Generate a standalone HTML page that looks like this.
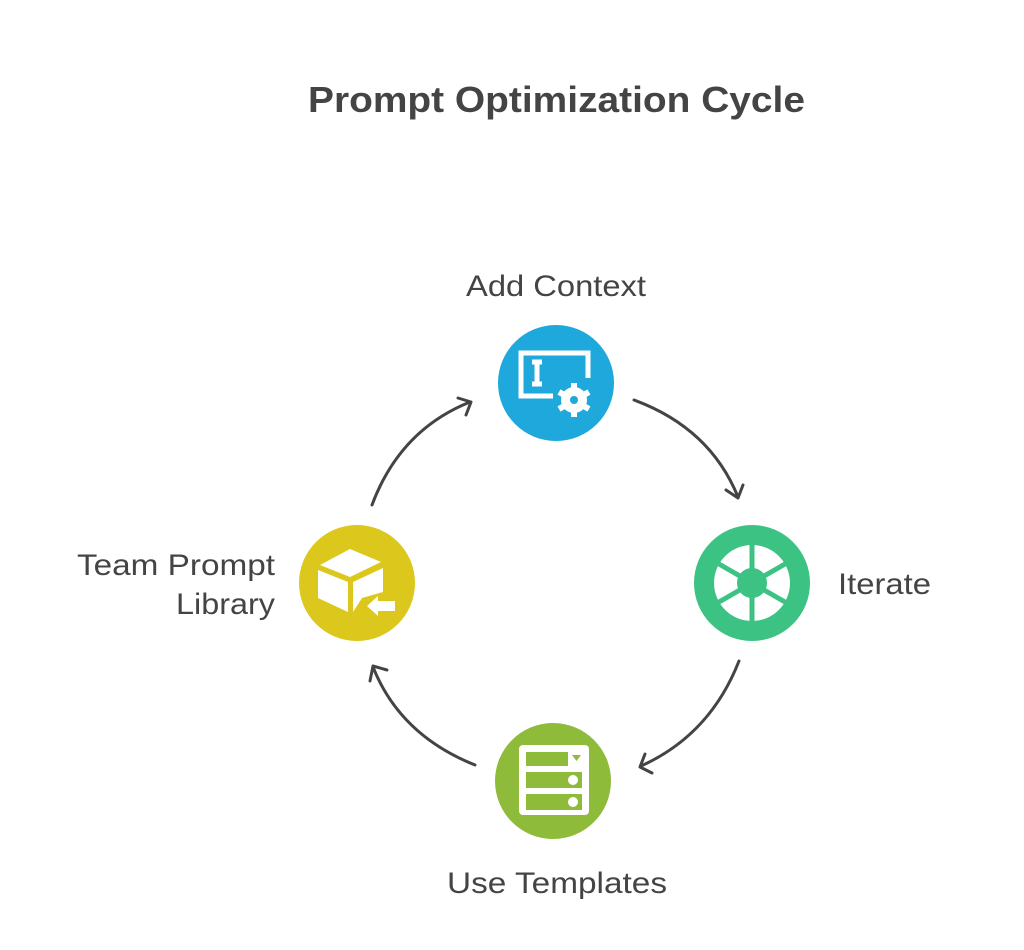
<!DOCTYPE html>
<html><head><style>
body{margin:0;background:#fff;}
svg{display:block}
text{font-family:"Liberation Sans",sans-serif;fill:#444}
</style></head><body>
<svg width="1024" height="950" viewBox="0 0 1024 950">
<text x="308" y="112" font-size="36" font-weight="bold" textLength="497" lengthAdjust="spacingAndGlyphs">Prompt Optimization Cycle</text>
<g fill="none" stroke="#444" stroke-width="3" stroke-linecap="round" stroke-linejoin="round">
<path d="M372 505 Q400 430 470 402"/><path d="M458 398 L471 402 L466 415"/>
<path d="M634 400 Q710 428 738 497"/><path d="M726 490 L738 498 L743 485"/>
<path d="M739 661 Q710 735 641 766"/><path d="M652 773 L640 767 L645 754"/>
<path d="M475 765 Q400 735 373 667"/><path d="M370 681 L373 666 L387 670"/>
</g>
<circle cx="556" cy="383" r="58" fill="#1ea8dc"/>
<circle cx="752" cy="583" r="58" fill="#3cc383"/>
<circle cx="553" cy="781" r="58" fill="#8fbb3a"/>
<circle cx="357" cy="583" r="58" fill="#dcc81c"/>
<g fill="none" stroke="#fff" stroke-width="5">
<path d="M553 396 L521 396 L521 353 L588 353 L588 378"/>
<path d="M532 362 h10 M537 362 v22 M532 384 h10"/>
</g>
<g fill="#fff"><circle cx="574" cy="400" r="13"/></g>
<g stroke="#fff" stroke-width="6"><path d="M574 383 v34 M559 392 l30 17 M559 409 l30 -17"/></g>
<circle cx="574" cy="400" r="4" fill="#1ea8dc"/>
<circle cx="752" cy="583" r="38" fill="#fff"/>
<circle cx="752" cy="583" r="15" fill="#3cc383"/>
<g stroke="#3cc383" stroke-width="5"><path d="M752 545 v76 M719 564 l66 38 M719 602 l66 -38"/></g>
<rect x="519" y="745" width="70" height="70" rx="4" fill="#fff"/>
<g fill="#8fbb3a"><rect x="526" y="752" width="42" height="14"/><rect x="526" y="772" width="56" height="16"/><rect x="526" y="794" width="56" height="16"/></g>
<path d="M572 755 h9 l-4.5 6z" fill="#8fbb3a"/>
<circle cx="573" cy="780" r="5" fill="#fff"/><circle cx="573" cy="802" r="5" fill="#fff"/>
<g fill="#fff"><path d="M320 565 L350 549 L381 562 L350 577z"/><path d="M318 570 L348 582 L348 612 L318 598z"/><path d="M353 582 L383 568 L383 592 L362 598 L353 612z"/>
<path d="M367 606 L378 596 L378 601 L395 601 L395 611 L378 611 L378 616z"/></g>
<text x="466" y="296" font-size="30" textLength="180" lengthAdjust="spacingAndGlyphs">Add Context</text>
<text x="838" y="594" font-size="30" textLength="93" lengthAdjust="spacingAndGlyphs">Iterate</text>
<text x="447" y="893" font-size="30" textLength="220" lengthAdjust="spacingAndGlyphs">Use Templates</text>
<text x="77" y="575" font-size="30" textLength="198" lengthAdjust="spacingAndGlyphs">Team Prompt</text>
<text x="176" y="614" font-size="30" textLength="99" lengthAdjust="spacingAndGlyphs">Library</text>
</svg>
</body></html>
